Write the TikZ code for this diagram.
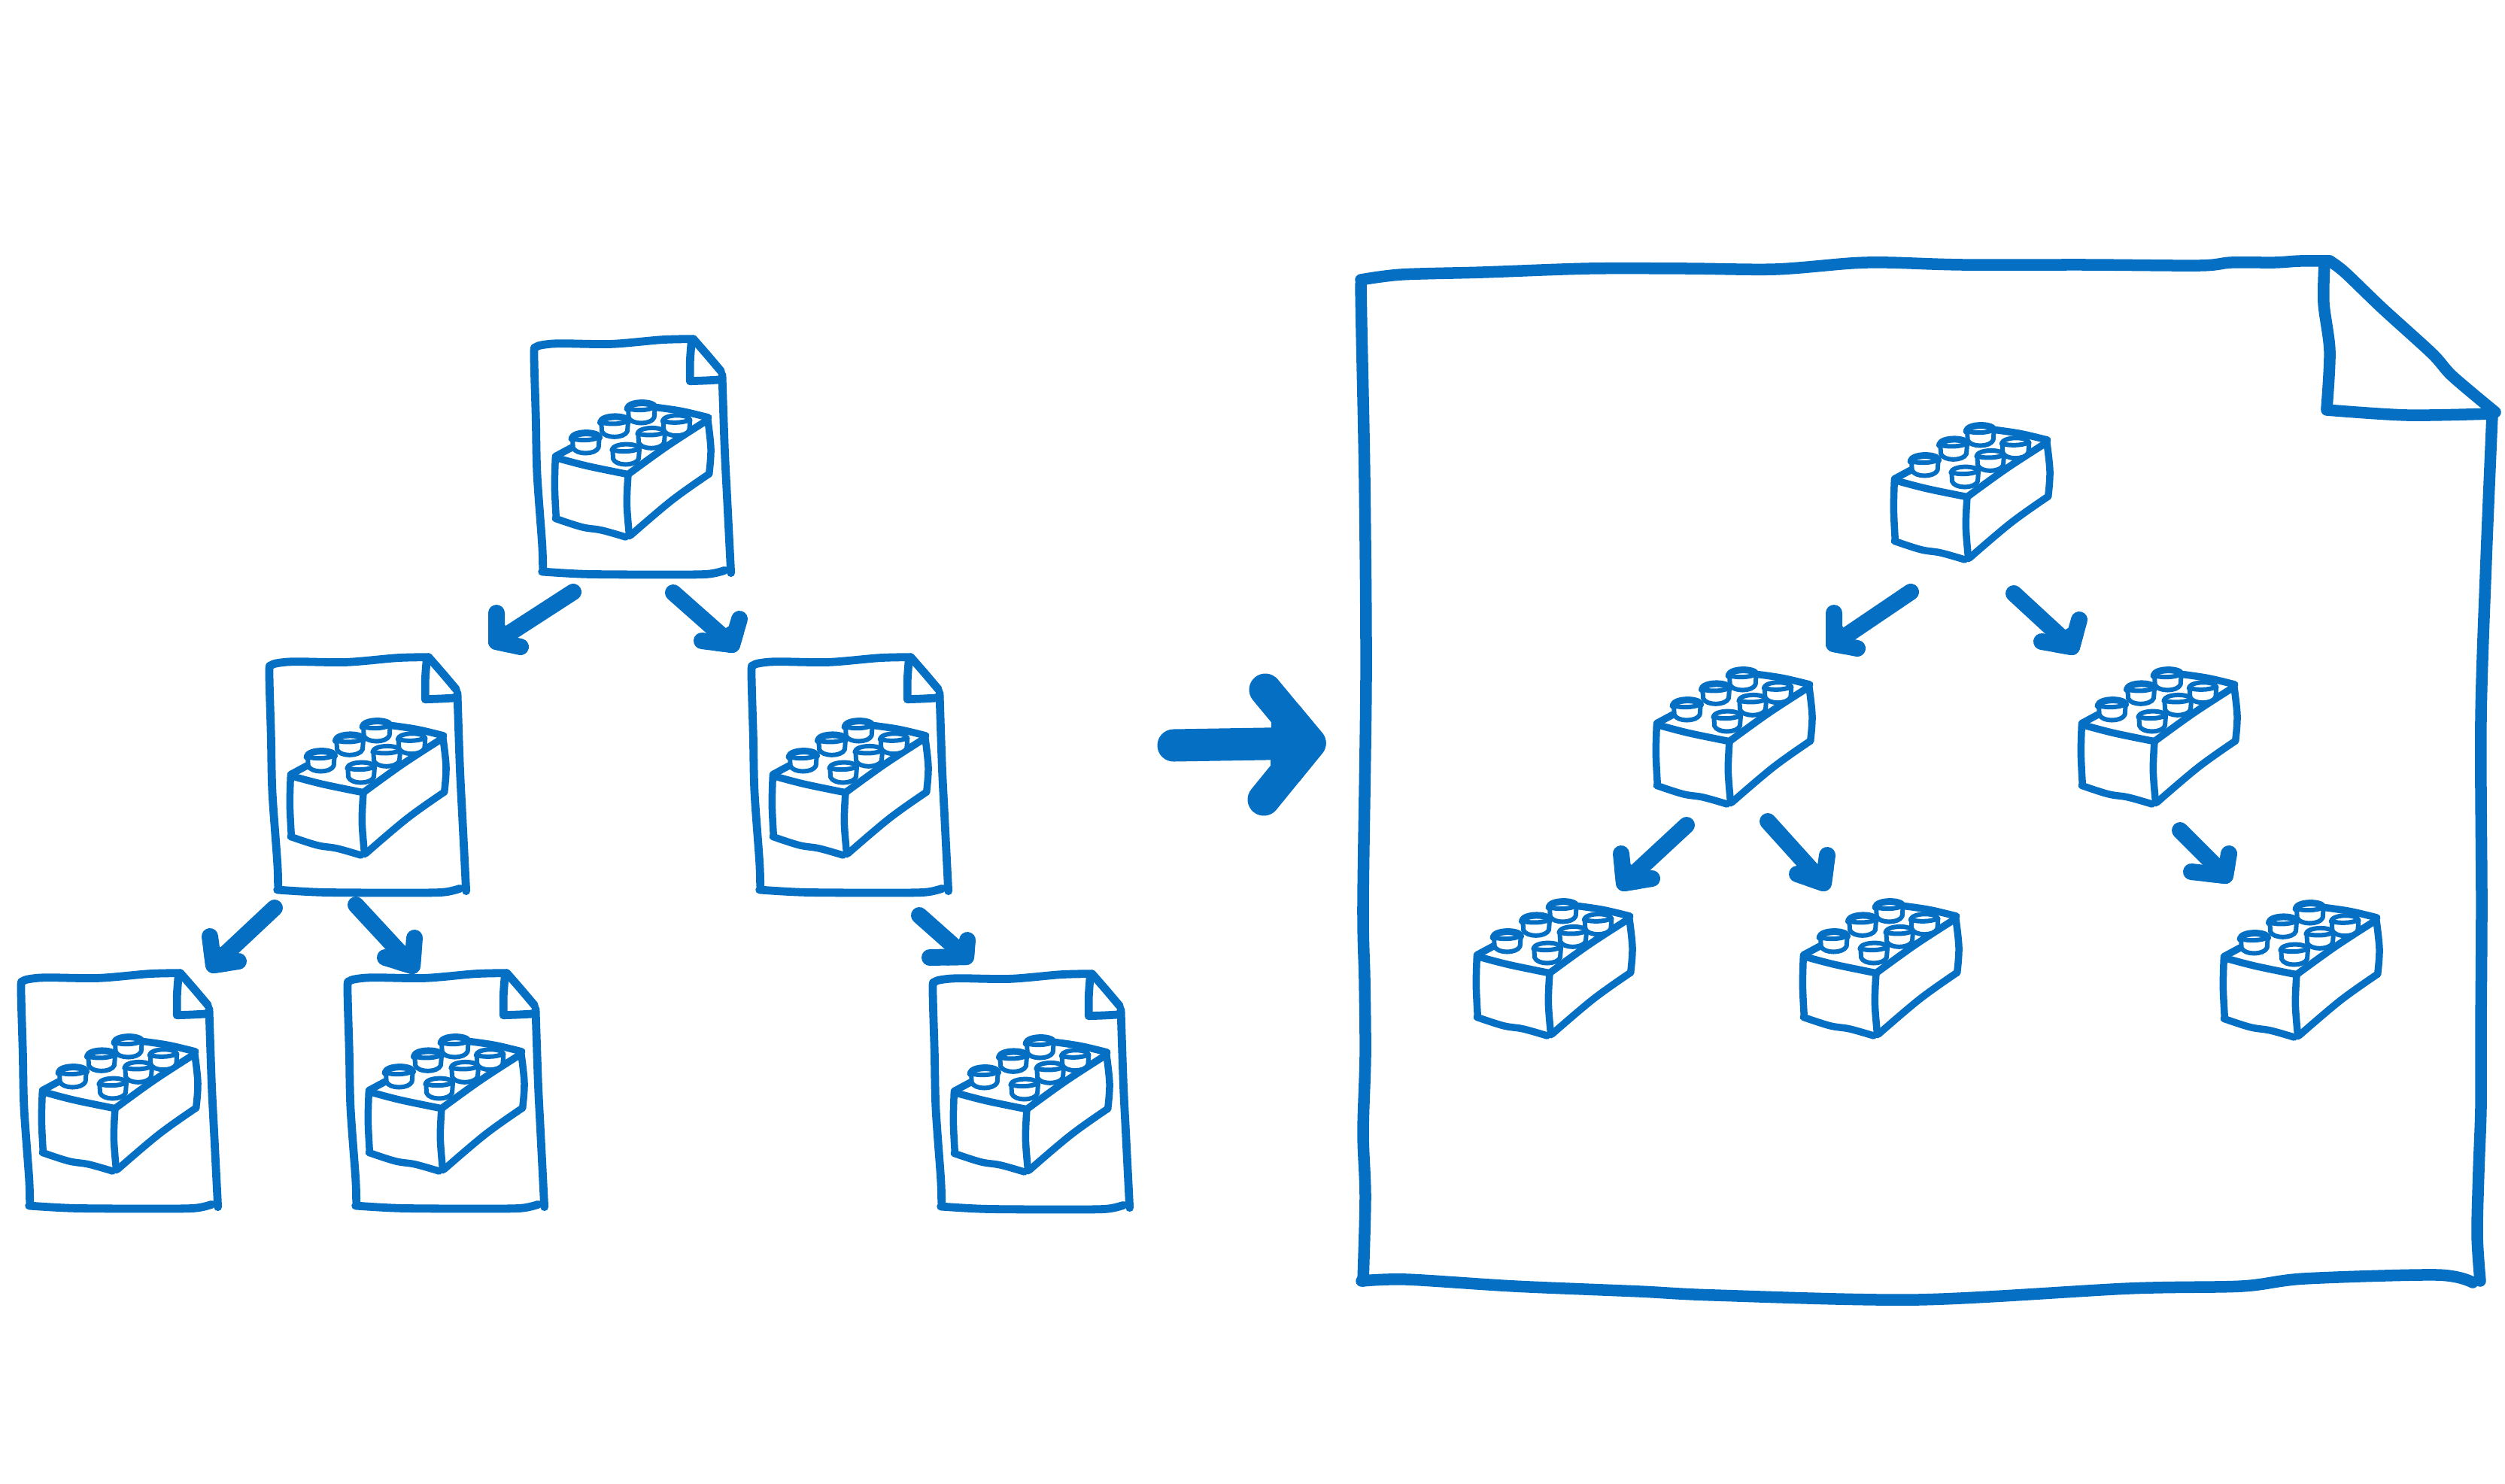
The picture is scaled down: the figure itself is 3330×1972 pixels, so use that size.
\documentclass[tikz,border=0pt]{standalone}
\usepackage{xcolor}
\usetikzlibrary{calc}
\definecolor{sketchblue}{HTML}{0570C3}
\tikzset{
	sketchline/.style={draw=sketchblue,line cap=round,line join=round},
	docline/.style={sketchline,line width=0.108cm},
	bodyline/.style={sketchline,line width=0.095cm},
	studline/.style={sketchline,line width=0.06cm},
	frameline/.style={sketchline,line width=0.155cm},
	arrowline/.style={sketchline,line width=0.22cm},
	bigarrowline/.style={sketchline,line width=0.43cm},
	pics/brick/.style={code={
		\begin{scope}[scale=1/3]
		\draw[bodyline] plot[smooth,tension=0.6] coordinates {(175,535) (172,650) (178,775)};
		\draw[bodyline] plot[smooth,tension=0.6] coordinates {(175,778) (280,812) (360,825) (455,852)};
		\draw[bodyline] plot[smooth,tension=0.6] coordinates {(175,535) (300,568) (465,602)};
		\draw[bodyline] plot[smooth,tension=0.6] coordinates {(465,602) (460,720) (470,848)};
		\draw[bodyline] plot[smooth,tension=0.6] coordinates {(465,602) (620,490) (782,385)};
		\draw[bodyline] plot[smooth,tension=0.6] coordinates {(782,380) (795,500) (788,600)};
		\draw[bodyline] plot[smooth,tension=0.6] coordinates {(788,600) (640,705) (475,845)};
		\draw[bodyline] plot[smooth,tension=0.6] coordinates {(175,530) (240,495)};
		\draw[bodyline] plot[smooth,tension=0.6] coordinates {(580,335) (680,350) (785,375)};
		\foreach \sx/\sy/\sw in {295/430/0.09,410/365/0.09,517/310/0.09,455/475/0.06,557/410/0.06,657/360/0.06} {
			\begin{scope}[shift={(\sx,\sy)}]
			\fill[white] (-55,25) .. controls (-50,5) and (50,5) .. (55,25) -- (55,65) .. controls (40,95) and (-40,95) .. (-55,65) -- cycle;
			\draw[studline] (-52,25) -- (-50,65) .. controls (-40,95) and (40,95) .. (52,65) -- (55,25);
			\draw[studline] (-50,30) .. controls (-25,38) and (25,38) .. (52,25);
			\draw[sketchline,line width=\sw cm] (-55,30) .. controls (-50,0) and (50,0) .. (55,25);
			\end{scope}
		}
		\end{scope}
	}},
	pics/docsheet/.style={code={
		\pic {brick};
		\begin{scope}[scale=1/3]
		\draw[docline] plot[smooth,tension=0.5] coordinates {(125,975) (122,880) (102,600) (97,380) (90,125) (98,94) (135,84) (200,80) (400,82) (600,65) (725,62)};
		\draw[docline] plot[smooth,tension=0.5] coordinates {(725,62) (780,125) (835,190)};
		\draw[docline] plot[smooth,tension=0.5] coordinates {(840,205) (850,500) (860,700) (875,995)};
		\draw[docline] plot[smooth,tension=0.5] coordinates {(122,990) (300,1000) (600,1002) (780,1000) (850,985)};
		\draw[docline] plot[smooth,tension=0.5] coordinates {(718,70) (712,150) (712,230)};
		\draw[docline] plot[smooth,tension=0.5] coordinates {(712,230) (770,228) (825,225)};
		\end{scope}
	}}
}
% one stroke for the shaft, two for the head, the corner filled in
\newcommand{\handarrow}[6][arrowline]{
	\coordinate (#2-s) at (#3);
	\coordinate (#2-t) at (#4);
	\coordinate (#2-u) at (#5);
	\coordinate (#2-v) at (#6);
	\draw[#1] (#2-s) -- (#2-t);
	\draw[#1] (#2-u) -- (#2-t) -- (#2-v);
	\draw[#1,fill=sketchblue] ($(#2-t)!0.5!(#2-u)$) -- (#2-t) -- ($(#2-t)!0.5!(#2-v)$) -- cycle;
}
\begin{document}
\begin{tikzpicture}[x=0.01cm,y=-0.01cm]
	\fill[white] (0,0) rectangle (3330,1972);
	\useasboundingbox (0,0) rectangle (3330,1972);
	% files on the left
	\pic (doca) at (680,430) {docsheet};
	\pic (docb) at (328,853) {docsheet};
	\pic (docc) at (969,853) {docsheet};
	\pic (docd) at (-2,1273) {docsheet};
	\pic (doce) at (432,1273) {docsheet};
	\pic (docf) at (1210,1274) {docsheet};
	\handarrow{ab}{762,787}{660,853}{660,815}{692,860}
	\handarrow{ac}{895,788}{973,857}{983,823}{933,852}
	\handarrow{bd}{365,1207}{284,1283}{279,1245}{317,1278}
	\handarrow{be}{473,1203}{548,1284}{551,1247}{512,1273}
	\handarrow{cf}{1222,1217}{1284,1272}{1286,1250}{1236,1273}
	% big arrow
	\handarrow[bigarrowline]{mid}{1560,991}{1741,988}{1682,917}{1680,1063}
	% big file
	\draw[frameline] plot[smooth,tension=0.5] coordinates {(1809,372) (1863,365) (1971,362) (2112,357) (2244,357) (2360,358) (2460,350) (2510,349) (2609,352) (2775,352) (2924,353) (2966,349) (3024,349) (3057,347) (3097,347)};
	\draw[frameline] plot[smooth,tension=0.5] coordinates {(1809,378) (1810,437) (1814,637) (1816,900) (1812,1200) (1814,1302) (1815,1404) (1812,1506) (1815,1591) (1812,1703)};
	\draw[frameline] plot[smooth,tension=0.5] coordinates {(1810,1703) (1870,1701) (2013,1710) (2180,1717) (2280,1722) (2549,1728) (2830,1713) (2980,1710) (3063,1700) (3240,1695) (3287,1705)};
	\draw[frameline] plot[smooth,tension=0.5] coordinates {(3313,552) (3305,743) (3298,956) (3299,1200) (3298,1370) (3298,1472) (3295,1557) (3293,1642) (3297,1703)};
	\draw[frameline] plot[smooth,tension=0.5] coordinates {(3090,350) (3089,403) (3097,467) (3093,543)};
	\draw[frameline] plot[smooth,tension=0.5] coordinates {(3093,545) (3200,552) (3313,550)};
	\draw[frameline] plot[smooth,tension=0.5] coordinates {(3097,347) (3117,362) (3167,410) (3233,470) (3260,500) (3317,548)};
	% bricks inside it
	\pic (bricka) at (2460,460) {brick};
	\pic (brickb) at (2144,785) {brick};
	\pic (brickc) at (2709,785) {brick};
	\pic (brickd) at (1905,1093) {brick};
	\pic (bricke) at (2339,1093) {brick};
	\pic (brickf) at (2898,1095) {brick};
	\handarrow{rab}{2540,787}{2438,856}{2438,815}{2469,862}
	\handarrow{rac}{2677,789}{2754,860}{2764,824}{2714,853}
	\handarrow{rbd}{2242,1097}{2159,1174}{2155,1135}{2196,1168}
	\handarrow{rbe}{2350,1092}{2424,1174}{2429,1137}{2389,1162}
	\handarrow{rcf}{2898,1104}{2958,1164}{2963,1135}{2913,1159}
\end{tikzpicture}
\end{document}
